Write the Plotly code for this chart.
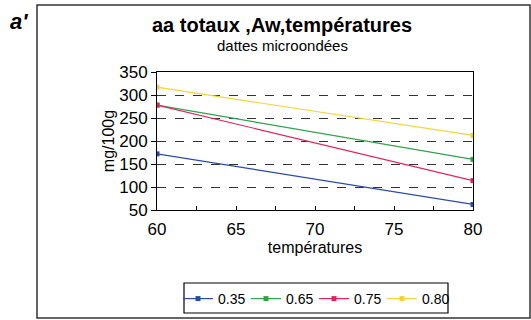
import plotly.graph_objects as go

temperatures = [60, 80]
series_names = ["0.35", "0.65", "0.75", "0.80"]
aw_035 = [172, 62]
aw_065 = [278, 160]
aw_075 = [278, 114]
aw_080 = [317, 212]
colors = ["#2a4aa8", "#2fa34a", "#e0245a", "#f2d43a"]

W, H = 531, 320
L, R, T, B = 157, 473, 72, 210

def px(x):
    return (x - L) / (R - L)

def py(y):
    return (B - y) / (B - T)

fig = go.Figure()
for name, vals, c in zip(series_names, [aw_035, aw_065, aw_075, aw_080], colors):
    fig.add_trace(go.Scatter(
        x=temperatures, y=vals, name=name, mode="lines+markers",
        line=dict(color=c, width=1.2),
        marker=dict(symbol="square", size=5, color=c, line=dict(width=0)),
    ))

font = "Liberation Sans, Arial, sans-serif"
fig.update_layout(
    width=W, height=H,
    margin=dict(l=L, r=W - R, t=T, b=H - B, autoexpand=False),
    paper_bgcolor="white", plot_bgcolor="white",
    font=dict(family=font, size=17, color="black"),
    showlegend=True,
    legend=dict(orientation="h", x=px(178), xanchor="left", y=py(283), yanchor="top",
                bgcolor="rgba(0,0,0,0)", borderwidth=0, font=dict(size=14),
                itemwidth=30, tracegroupgap=0, entrywidth=23, entrywidthmode="pixels"),
    xaxis=dict(range=[60, 80], tickvals=[60, 65, 70, 75, 80], showgrid=False,
               showline=True, linecolor="black", linewidth=1, mirror=True,
               ticks="inside", ticklen=4, tickcolor="black", ticklabelstandoff=4,
               minor=dict(tickvals=[62.5, 67.5, 72.5, 77.5], ticks="inside", ticklen=4, tickcolor="black"),
               title=dict(text="températures", font=dict(size=16), standoff=2),
               tickfont=dict(size=17), zeroline=False),
    yaxis=dict(range=[50, 350], tickvals=[50, 100, 150, 200, 250, 300, 350],
               showgrid=True, gridcolor="#333333", griddash="dash", gridwidth=1,
               showline=True, linecolor="black", linewidth=1, mirror=True,
               ticks="outside", ticklen=5, tickcolor="black",
               title=dict(text="mg/100g", font=dict(size=16), standoff=0),
               tickfont=dict(size=17), zeroline=False),
    shapes=[
        dict(type="rect", xref="paper", yref="paper",
             x0=px(37), x1=px(530), y0=py(318), y1=py(5),
             line=dict(color="#333333", width=1.5)),
        dict(type="rect", xref="paper", yref="paper",
             x0=px(184), x1=px(448), y0=py(313), y1=py(283),
             line=dict(color="black", width=1.2)),
    ],
    annotations=[
        dict(text="<b>aa totaux ,Aw,températures</b>", xref="paper", yref="paper",
             x=px(282), y=py(25), xanchor="center", yanchor="middle", showarrow=False,
             font=dict(size=20)),
        dict(text="dattes microondées", xref="paper", yref="paper",
             x=px(282), y=py(45), xanchor="center", yanchor="middle", showarrow=False,
             font=dict(size=15)),
        dict(text="<b><i>a'</i></b>", xref="paper", yref="paper",
             x=px(8), y=py(22), xanchor="left", yanchor="middle", showarrow=False,
             font=dict(size=22)),
    ],
)

fig.write_html("out.html", config={"displayModeBar": False},
               post_script="document.body.style.margin='0';")
